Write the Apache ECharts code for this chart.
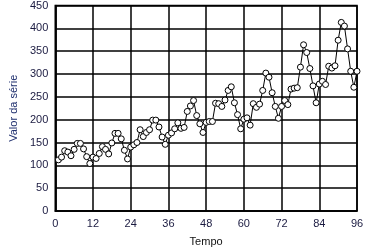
<!DOCTYPE html>
<html><head><meta charset="utf-8">
<script src="https://cdn.jsdelivr.net/npm/echarts@6/dist/echarts.min.js"></script>
<style>html,body{margin:0;padding:0;background:#fff}#c{width:384px;height:252px}</style>
</head><body><div id="c"></div>
<script>
const tempo = [];
for (let i = 1; i <= 96; i++) tempo.push(i);
const valores = [
112,118,132,129,121,135,148,148,136,119,104,118,
115,126,141,135,125,149,170,170,158,133,114,140,
145,150,178,163,172,178,199,199,184,162,146,166,
171,180,193,181,183,218,230,242,209,191,172,194,
196,196,236,235,229,243,264,272,237,211,180,201,
204,188,235,227,234,264,302,293,259,229,203,229,
242,233,267,269,270,315,364,347,312,274,237,278,
284,277,317,313,318,374,413,405,355,306,271,306
];
const xTitle = 'Tempo';
const yTitle = 'Valor da série';

const chart = echarts.init(document.getElementById('c'), null, {renderer:'canvas'});
const lineStyle = {color:'#000', width:1.5};
chart.setOption({
  animation:false,
  grid:{left:54, right:27, top:3, bottom:40, show:true, borderColor:'#000', borderWidth:1.5},
  xAxis:{type:'value', min:0, max:96, interval:12,
    name:xTitle, nameLocation:'middle', nameGap:25,
    nameTextStyle:{color:'#111', fontFamily:'Liberation Sans', fontSize:11},
    axisLine:{show:true, lineStyle:lineStyle}, axisTick:{show:false},
    axisLabel:{color:'#1a1a40', fontFamily:'Liberation Sans', fontSize:11, margin:7},
    splitLine:{show:true, lineStyle:lineStyle}},
  yAxis:{type:'value', min:0, max:450, interval:50,
    name:yTitle, nameLocation:'middle', nameGap:33,
    nameTextStyle:{color:'#1f2f6e', fontFamily:'Liberation Sans', fontSize:11},
    axisLine:{show:true, lineStyle:lineStyle}, axisTick:{show:false},
    axisLabel:{color:'#1a1a40', fontFamily:'Liberation Sans', fontSize:11, margin:7},
    splitLine:{show:true, lineStyle:lineStyle}},
  series:[{type:'line', data:tempo.map((t,i)=>[t,valores[i]]),
    symbol:'circle', symbolSize:6, showAllSymbol:true,
    lineStyle:{color:'#000', width:1},
    itemStyle:{color:'#fff', borderColor:'#000', borderWidth:1}}]
});
</script></body></html>
